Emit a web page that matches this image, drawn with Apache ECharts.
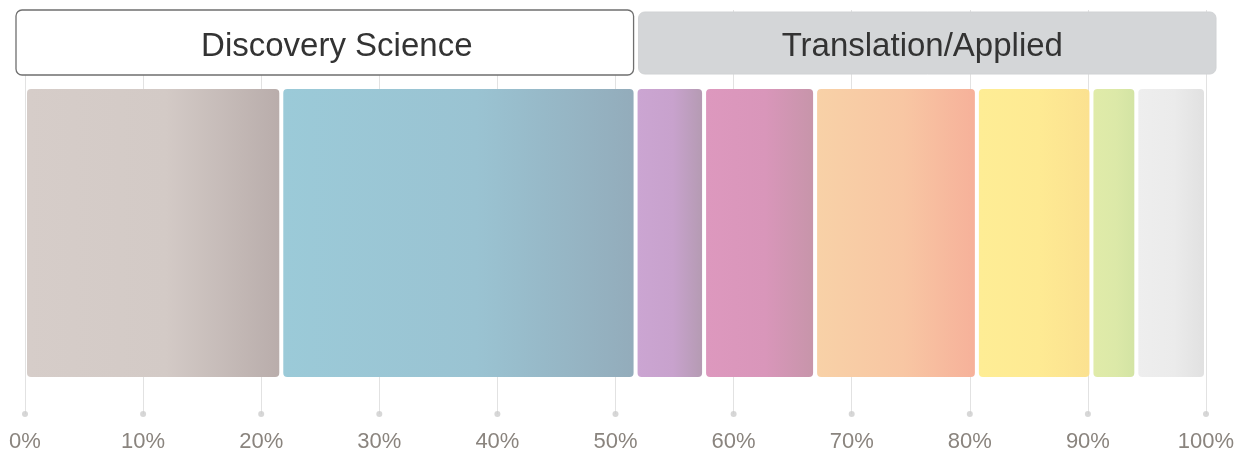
<!DOCTYPE html>
<html>
<head>
<meta charset="utf-8">
<script src="https://cdn.jsdelivr.net/npm/echarts@6/dist/echarts.min.js"></script>
<style>
  html, body { margin: 0; padding: 0; background: #ffffff; }
  #chart { width: 1243px; height: 455px; }
</style>
</head>
<body>
<div id="chart"></div>
<script>
// ---- data ----
const segmentNames = ['Segment 1', 'Segment 2', 'Segment 3', 'Segment 4', 'Segment 5', 'Segment 6', 'Segment 7', 'Segment 8'];
const segmentValues = [21.7, 30.0, 5.8, 9.4, 13.7, 9.7, 3.8, 5.9];
const groupNames = ['Discovery Science', 'Translation/Applied'];
const groupShares = [51.7, 48.3];
const tickValues = [0, 10, 20, 30, 40, 50, 60, 70, 80, 90, 100];

// ---- styles ----
const segmentColors = [
  ['#d6cdc9', '#d3cac6', '#b9adab'],
  ['#9bcad8', '#9ac3d2', '#93acbb'],
  ['#cba5d2', '#c8a2cd', '#b59bb3'],
  ['#dd98be', '#d996ba', '#c795aa'],
  ['#f8d1a7', '#f8c6a3', '#f6b19a'],
  ['#feed95', '#feea93', '#fbe190'],
  ['#e0eba9', '#dce9a8', '#d3e4a4'],
  ['#eeeeee', '#ebebeb', '#e1e1e1']
];
const groupTextShift = [12, -5];

function cumulate(vals) {
  let acc = 0;
  return vals.map((v, i) => { const s = acc; acc += v; return [s, acc, i]; });
}
const segData = cumulate(segmentValues);
const groupData = cumulate(groupShares);

const chart = echarts.init(document.getElementById('chart'));

chart.setOption({
  animation: false,
  grid: { left: 25, right: 37, top: 10, bottom: 41 },
  xAxis: {
    type: 'value', min: 0, max: 100, interval: 10,
    axisLine: { show: false },
    axisTick: { show: false },
    axisLabel: {
      formatter: '{value}%', color: '#8a847e', fontSize: 22,
      fontFamily: 'Liberation Sans, Arial, sans-serif', margin: 17
    },
    splitLine: { show: true, lineStyle: { color: '#e2e2e2', width: 1 } }
  },
  yAxis: {
    type: 'value', min: 0, max: 1, show: false,
    splitLine: { show: false }
  },
  series: [
    {
      type: 'custom',
      name: 'segments',
      data: segData,
      encode: { x: [0, 1] },
      renderItem: function (params, api) {
        const s = api.value(0), e = api.value(1), idx = api.value(2);
        const p0 = api.coord([s, 0]);
        const p1 = api.coord([e, 0]);
        const cs = params.coordSys;
        const top = cs.y + 79, bottom = cs.y + 367;
        const x0 = p0[0] + 2;
        const x1 = p1[0] - 2;
        const c = segmentColors[idx];
        return {
          type: 'rect',
          shape: { x: x0, y: top, width: x1 - x0, height: bottom - top, r: 4 },
          style: {
            fill: new echarts.graphic.LinearGradient(0, 0, 1, 0, [
              { offset: 0, color: c[0] },
              { offset: 0.55, color: c[1] },
              { offset: 1, color: c[2] }
            ])
          }
        };
      },
      z: 2
    },
    {
      type: 'custom',
      name: 'groups',
      data: groupData,
      encode: { x: [0, 1] },
      renderItem: function (params, api) {
        const s = api.value(0), e = api.value(1), idx = api.value(2);
        const p0 = api.coord([s, 0]);
        const p1 = api.coord([e, 0]);
        const cs = params.coordSys;
        const first = idx === 0;
        const x0 = first ? p0[0] - 9 : p0[0] + 3;
        const x1 = first ? p1[0] - 2 : p1[0] + 10;
        const top = first ? cs.y : cs.y + 2;
        const bottom = first ? cs.y + 65 : cs.y + 64;
        return {
          type: 'group',
          children: [
            {
              type: 'rect',
              shape: { x: x0, y: top, width: x1 - x0, height: bottom - top, r: 6 },
              style: first
                ? { fill: '#ffffff', stroke: '#6f6f6f', lineWidth: 1.3 }
                : { fill: '#d4d6d8', stroke: '#d0d2d4', lineWidth: 1 }
            },
            {
              type: 'text',
              style: {
                text: groupNames[idx],
                x: (x0 + x1) / 2 + groupTextShift[idx],
                y: (top + bottom) / 2 + 4,
                align: 'center',
                verticalAlign: 'middle',
                fill: '#333333',
                fontSize: 33,
                fontFamily: 'Liberation Sans, Arial, sans-serif'
              }
            }
          ]
        };
      },
      z: 3
    },
    {
      type: 'scatter',
      name: 'ticks',
      data: tickValues.map(v => [v, 0]),
      symbol: 'circle',
      symbolSize: 6,
      clip: false,
      itemStyle: { color: '#cdcdcd' },
      silent: true,
      z: 2
    }
  ]
});
</script>
</body>
</html>
